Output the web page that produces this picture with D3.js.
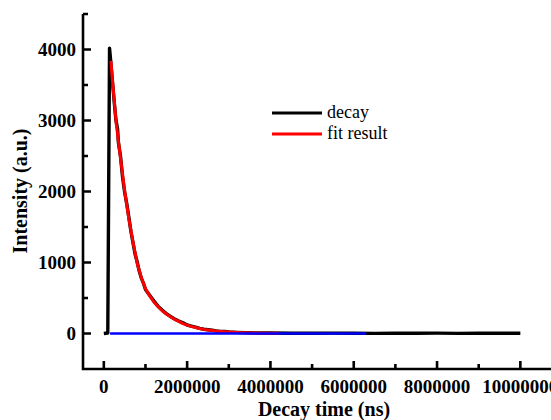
<!DOCTYPE html>
<html><head><meta charset="utf-8">
<script src="https://cdn.jsdelivr.net/npm/d3@7"></script>
<style>html,body{margin:0;padding:0;background:#fff;overflow:hidden}</style>
</head><body>
<script>
// time in ns
const decayTime = [0,50000,95000,137000,160000,200000,250000,290000,330000,350000,400000,450000,500000,550000,600000,650000,700000,750000,800000,850000,900000,950000,1000000,1100000,1200000,1300000,1400000,1500000,1600000,1700000,1800000,1900000,2000000,2100000,2200000,2300000,2400000,2500000,2600000,2700000,2800000,2900000,3000000,3200000,3400000,3600000,3800000,4000000,4500000,5000000,5500000,6000000,6500000,7000000,7500000,8000000,8500000,9000000,9500000,10000000];
const decayValue = [0,3,6,4020,3870,3600,3260,3010,2880,2690,2500,2200,1990,1830,1640,1440,1280,1120,1010,880,780,710,620,540,460,385,330,280,240,205,175,150,120,105,90,72,60,52,45,36,30,28,22,16,12,9,7,6,4,3,5,3,2,4,3,5,2,4,3,3];
const fitTime = [170000,200000,300000,400000,500000,600000,700000,800000,900000,1000000,1100000,1200000,1300000,1400000,1500000,1600000,1700000,1800000,1900000,2000000,2100000,2200000,2300000,2400000,2500000,2600000,2700000,2800000,2900000,3000000,3100000,3200000,3300000,3400000,3500000,3600000,3700000,3800000,3900000,4000000,4200000];
const fitValue = [3840,3610,2945,2475,2010,1615,1290,990,790,630,530,445,380,320,275,235,200,170,140,118,100,84,70,58,49,41,34,29,24,20,17,14,12,10,8,7,6,5,4,4,3];
const baseTime = [150000,6300000];
const baseValue = [0,0];
const xTicks = [0,2000000,4000000,6000000,8000000,10000000];
const xMinor = [1000000,3000000,5000000,7000000,9000000];
const yTicks = [0,1000,2000,3000,4000];
const yMinor = [500,1500,2500,3500,4500];
const legendLabels = ["decay","fit result"];
const colors = ["#000000","#ff0000","#0000ff"];

const W = 551, H = 420;
const svg = d3.select("body").append("svg").attr("width", W).attr("height", H);
const x = d3.scaleLinear().domain([-500000, 11000000]).range([83, 562]);
const y = d3.scaleLinear().domain([-500, 4500]).range([369, 14]);

const line = d3.line().x(d => x(d[0])).y(d => y(d[1]));
const serif = "'Liberation Serif','Times New Roman',serif";

// data lines
svg.append("path").datum(decayTime.map((t,i)=>[t,decayValue[i]]))
  .attr("d", line).attr("fill","none").attr("stroke",colors[0]).attr("stroke-width",3.4).attr("stroke-linejoin","round");
svg.append("path").datum(fitTime.map((t,i)=>[t,fitValue[i]]))
  .attr("d", line).attr("fill","none").attr("stroke",colors[1]).attr("stroke-width",3).attr("stroke-linejoin","round");
svg.append("path").datum(baseTime.map((t,i)=>[t,baseValue[i]]))
  .attr("d", line).attr("fill","none").attr("stroke",colors[2]).attr("stroke-width",2.6);

// axes lines + inward ticks
const X0 = x.range()[0], Y0 = y.range()[0];
let dAxis = `M${X0},${y(4500)}V${Y0}H${x.range()[1]}`;
let dTicks = "";
xTicks.forEach(v=>{ dTicks += `M${x(v)},${Y0}V${Y0-8}`; });
xMinor.forEach(v=>{ dTicks += `M${x(v)},${Y0}V${Y0-5}`; });
yTicks.forEach(v=>{ dTicks += `M${X0},${y(v)}H${X0+8}`; });
yMinor.forEach(v=>{ dTicks += `M${X0},${y(v)}H${X0+5}`; });
svg.append("path").attr("d",dTicks).attr("fill","none").attr("stroke","#000").attr("stroke-width",2.6);
svg.append("path").attr("d",dAxis).attr("fill","none").attr("stroke","#000").attr("stroke-width",2.6);

// labels
const fmt = d3.format("d");
svg.append("g").selectAll("text").data(xTicks).join("text")
  .attr("x",d=>x(d)).attr("y",Y0+24).attr("text-anchor","middle")
  .attr("font-family",serif).attr("font-weight","bold").attr("font-size",19).text(fmt);
svg.append("g").selectAll("text").data(yTicks).join("text")
  .attr("x",X0-7).attr("y",d=>y(d)).attr("dy","0.35em").attr("text-anchor","end")
  .attr("font-family",serif).attr("font-weight","bold").attr("font-size",19).text(fmt);

// axis titles
svg.append("text").attr("x",324).attr("y",416).attr("text-anchor","middle")
  .attr("font-family",serif).attr("font-weight","bold").attr("font-size",20).text("Decay time (ns)");
svg.append("text").attr("transform","translate(27,191) rotate(-90)").attr("text-anchor","middle")
  .attr("font-family",serif).attr("font-weight","bold").attr("font-size",20).text("Intensity (a.u.)");

// legend
const lg = svg.append("g");
legendLabels.forEach((lab,i)=>{
  const yy = 113 + i*21;
  lg.append("line").attr("x1",272).attr("x2",322).attr("y1",yy).attr("y2",yy).attr("stroke",colors[i]).attr("stroke-width",3);
  lg.append("text").attr("x",327).attr("y",yy+5).attr("font-family",serif).attr("font-size",18).text(lab);
});
</script>
</body></html>
